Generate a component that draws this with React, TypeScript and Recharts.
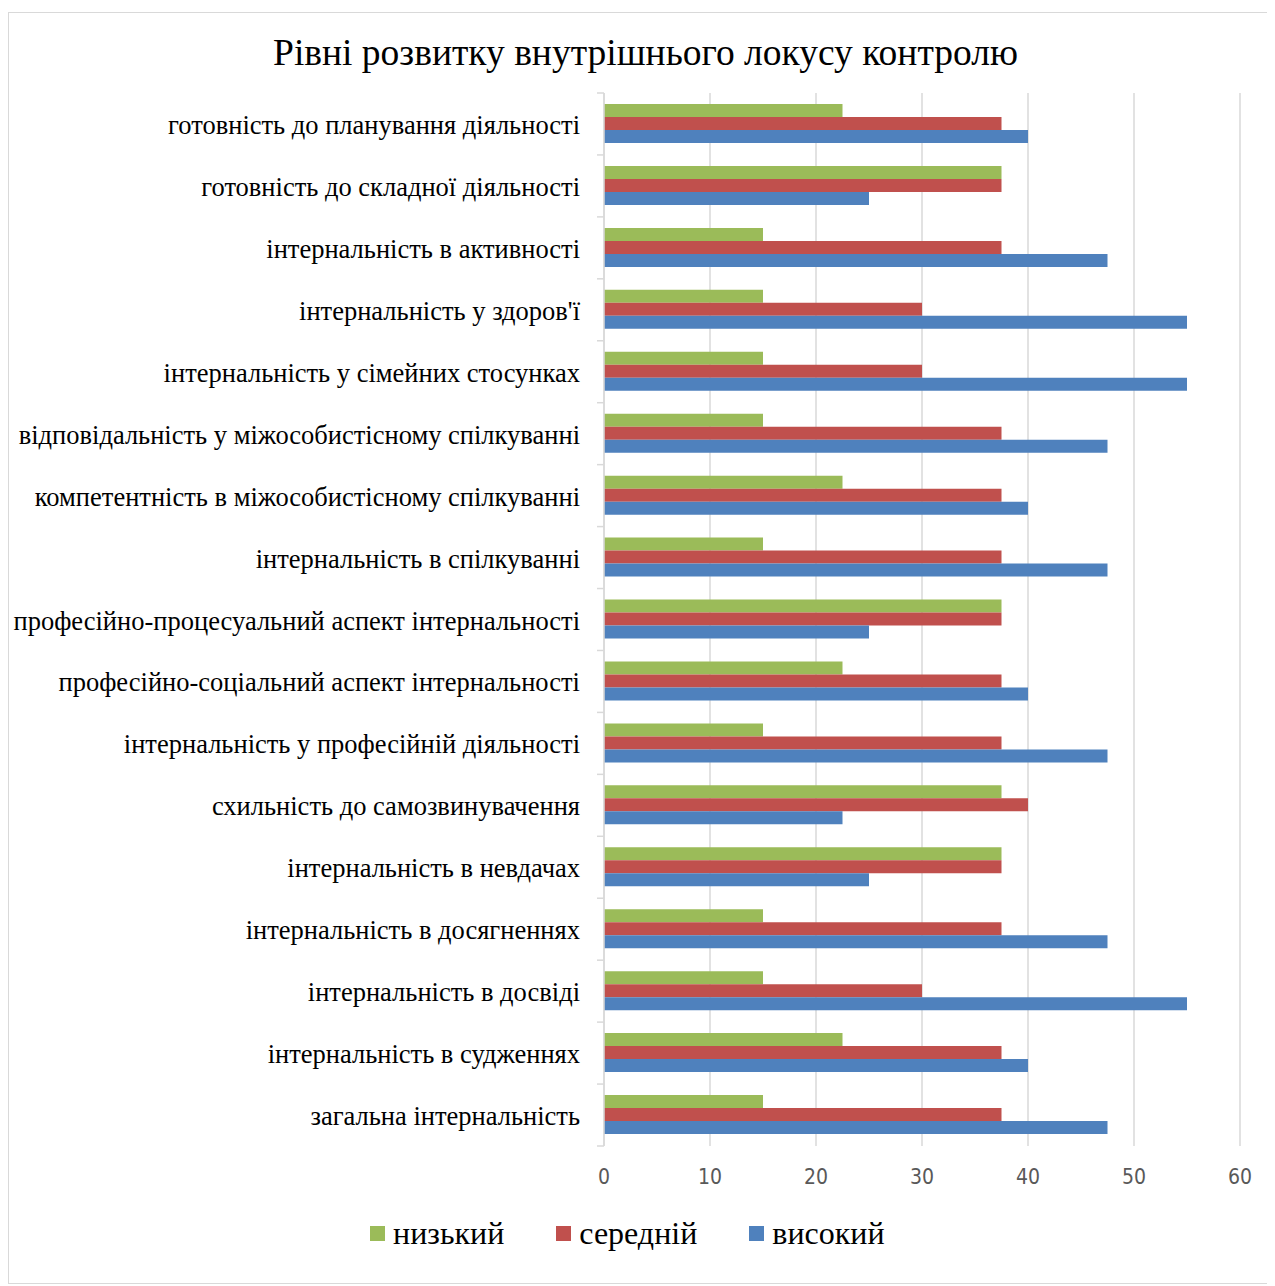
import React from "react";
import { BarChart, Bar, XAxis, YAxis, CartesianGrid } from "recharts";

const categories = [
  "готовність до планування діяльності",
  "готовність до складної діяльності",
  "інтернальність в активності",
  "інтернальність у здоров'ї",
  "інтернальність у сімейних стосунках",
  "відповідальність у міжособистісному спілкуванні",
  "компетентність в міжособистісному спілкуванні",
  "інтернальність в спілкуванні",
  "професійно-процесуальний аспект інтернальності",
  "професійно-соціальний аспект інтернальності",
  "інтернальність у професійній діяльності",
  "схильність до самозвинувачення",
  "інтернальність в невдачах",
  "інтернальність в досягненнях",
  "інтернальність в досвіді",
  "інтернальність в судженнях",
  "загальна інтернальність",
];

const low = [22.5, 37.5, 15, 15, 15, 15, 22.5, 15, 37.5, 22.5, 15, 37.5, 37.5, 15, 15, 22.5, 15];
const medium = [37.5, 37.5, 37.5, 30, 30, 37.5, 37.5, 37.5, 37.5, 37.5, 37.5, 40, 37.5, 37.5, 30, 37.5, 37.5];
const high = [40, 25, 47.5, 55, 55, 47.5, 40, 47.5, 25, 40, 47.5, 22.5, 25, 47.5, 55, 40, 47.5];

const xTicks = [0, 10, 20, 30, 40, 50, 60];

const seriesKeys = ["low", "medium", "high"];
const seriesNames = ["низький", "середній", "високий"];
const seriesColors = ["#9BBB59", "#C0504D", "#4F81BD"];

const data = categories.map((name, i) => ({
  name,
  low: low[i],
  medium: medium[i],
  high: high[i],
}));

const CHART_W = 1265;
const CHART_H = 1270;
const MARGIN = { top: 80, right: 34, bottom: 97, left: 0 };
const X_AXIS_H = 40;
const PLOT_H = CHART_H - MARGIN.top - MARGIN.bottom - X_AXIS_H;
const BAND = PLOT_H / categories.length;

const serif = "'Liberation Serif', 'Times New Roman', serif";
const sans = "'Liberation Sans Narrow', 'DejaVu Sans Condensed', 'Liberation Sans', sans-serif";

const CategoryTick = (props: any) => {
  const { x, y, payload, index } = props;
  const axisX = x + 8;
  return (
    <g>
      <line x1={axisX - 7} x2={axisX} y1={y - BAND / 2} y2={y - BAND / 2} stroke="#d9d9d9" strokeWidth={1.5} />
      {index === categories.length - 1 && (
        <line x1={axisX - 7} x2={axisX} y1={y + BAND / 2} y2={y + BAND / 2} stroke="#d9d9d9" strokeWidth={1.5} />
      )}
      <text x={axisX - 24} y={y} dy={10} textAnchor="end" fontFamily={serif} fontSize={26.5} fill="#000">
        {payload.value}
      </text>
    </g>
  );
};

export default function App() {
  return (
    <div
      style={{
        position: "relative",
        marginTop: 4,
        width: 1267,
        height: 1272,
        boxSizing: "border-box",
        border: "1px solid #d9d9d9",
        background: "#fff",
      }}
    >
      <div
        style={{
          position: "absolute",
          top: 18,
          left: 4,
          width: CHART_W,
          textAlign: "center",
          fontFamily: serif,
          fontSize: 37.5,
          color: "#000",
        }}
      >
        Рівні розвитку внутрішнього локусу контролю
      </div>
      <BarChart
        width={CHART_W}
        height={CHART_H}
        data={data}
        layout="vertical"
        margin={MARGIN}
        barSize={13}
        barGap={0}
      >
        <CartesianGrid horizontal={false} stroke="#d9d9d9" strokeWidth={1.5} />
        <XAxis
          type="number"
          domain={[0, 60]}
          ticks={xTicks}
          axisLine={false}
          tickLine={false}
          height={X_AXIS_H}
          tick={{ fontFamily: sans, fontSize: 21, fill: "#595959" }}
          tickMargin={17}
          interval={0}
        />
        <YAxis
          type="category"
          dataKey="name"
          width={595}
          axisLine={{ stroke: "#d9d9d9", strokeWidth: 1.5 }}
          tickLine={false}
          tick={<CategoryTick />}
          interval={0}
        />
        {seriesKeys.map((k, i) => (
          <Bar key={k} dataKey={k} name={seriesNames[i]} fill={seriesColors[i]} isAnimationActive={false} />
        ))}
      </BarChart>
      <div
        style={{
          position: "absolute",
          top: 1205,
          left: 361,
          height: 30,
          display: "flex",
          alignItems: "center",
        }}
      >
        {seriesNames.map((n, i) => (
          <div key={n} style={{ display: "flex", alignItems: "center", marginRight: 52 }}>
            <span style={{ display: "inline-block", width: 15, height: 15, background: seriesColors[i], marginRight: 8 }} />
            <span style={{ fontFamily: serif, fontSize: 32, color: "#000", lineHeight: "30px" }}>{n}</span>
          </div>
        ))}
      </div>
    </div>
  );
}
